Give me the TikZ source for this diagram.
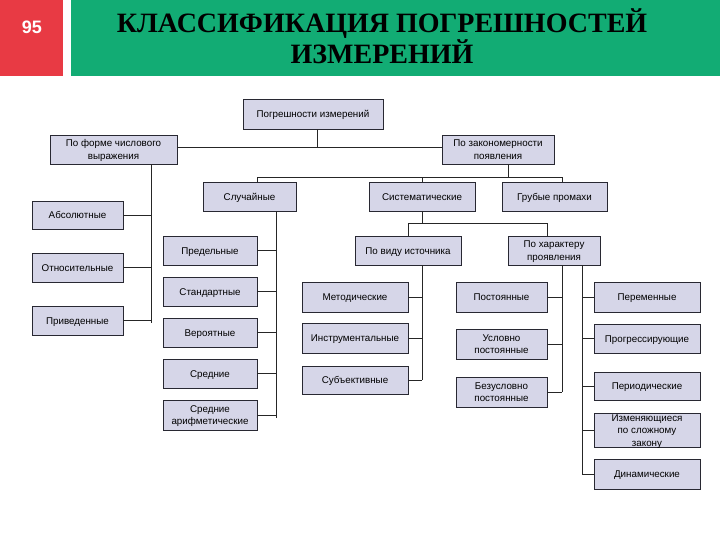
\documentclass[tikz,border=0pt]{standalone}
\usepackage{fontspec}
\setmainfont{Liberation Sans}
\newfontfamily\titlefont{Liberation Serif}
\usetikzlibrary{positioning, calc}
\definecolor{headred}{RGB}{232,58,68}
\definecolor{headgreen}{RGB}{18,172,116}
\definecolor{boxfill}{RGB}{214,214,232}
\definecolor{boxline}{RGB}{40,40,50}

\begin{document}
\begin{tikzpicture}[
    x=1pt, y=-1pt,
    classbox/.style={draw=boxline, fill=boxfill, line width=0.9pt, rectangle, inner sep=1pt,
      font=\fontsize{9.8}{12.5}\selectfont, align=center,
      execute at begin node={\rule{0pt}{11.5pt}}, execute at end node=\strut},
    tallbox/.style={execute at begin node={\rule{0pt}{#1}}},
    headbox/.style={rectangle, inner sep=0pt, anchor=north west, minimum height=76},
    tree_ln/.style={line width=0.9pt, black!85}
]
    \useasboundingbox[fill=white] (0,0) rectangle (720,540);

    \node[headbox, fill=headred, minimum width=63] (num_box) at (0,0) {};
    \node[headbox, fill=headgreen, minimum width=649] (title_box) at (71,0) {};
    \node[white, font=\bfseries\fontsize{18}{20}\selectfont] (num) at (32,27) {95};
    \node[font=\titlefont\bfseries\fontsize{28}{31}\selectfont, align=center] (title) at (382,36)
      {КЛАССИФИКАЦИЯ ПОГРЕШНОСТЕЙ\\ИЗМЕРЕНИЙ};

    \node[classbox, minimum width=140, minimum height=30] (root) at (313,114) {Погрешности измерений};
    \node[classbox, tallbox=23pt, minimum width=127, minimum height=29] (forma) at (113.5,149.5) {По форме числового\\выражения};
    \node[classbox, tallbox=23pt, minimum width=112, minimum height=29] (zakon) at (498,149.5) {По закономерности\\появления};

    \node[classbox, minimum width=91, minimum height=28] (abs) at (77.5,215) {Абсолютные};
    \node[classbox, minimum width=91, minimum height=29] (otn) at (77.5,267.5) {Относительные};
    \node[classbox, minimum width=91, minimum height=29] (priv) at (77.5,320.5) {Приведенные};

    \node[classbox, minimum width=93, minimum height=29] (sluch) at (249.5,196.5) {Случайные};
    \node[classbox, minimum width=106, minimum height=29] (sist) at (422,196.5) {Систематические};
    \node[classbox, minimum width=105, minimum height=29] (grub) at (554.5,196.5) {Грубые промахи};

    \node[classbox, minimum width=94, minimum height=29] (pred) at (210,250.5) {Предельные};
    \node[classbox, minimum width=94, minimum height=29] (stand) at (210,291.5) {Стандартные};
    \node[classbox, minimum width=94, minimum height=29] (ver) at (210,332.5) {Вероятные};
    \node[classbox, minimum width=94, minimum height=29] (sred) at (210,373.5) {Средние};
    \node[classbox, tallbox=23pt, minimum width=94, minimum height=30] (sarif) at (210,415) {Средние\\арифметические};

    \node[classbox, minimum width=106, minimum height=29] (vid) at (408,250.5) {По виду источника};
    \node[classbox, tallbox=23pt, minimum width=92, minimum height=29] (har) at (554,250.5) {По характеру\\проявления};

    \node[classbox, minimum width=106, minimum height=30] (met) at (355,297) {Методические};
    \node[classbox, minimum width=106, minimum height=30] (instr) at (355,338) {Инструментальные};
    \node[classbox, minimum width=106, minimum height=28] (subj) at (355,380) {Субъективные};

    \node[classbox, minimum width=91, minimum height=30] (post) at (501.5,297) {Постоянные};
    \node[classbox, tallbox=23pt, minimum width=91, minimum height=30] (usl) at (501.5,344) {Условно\\постоянные};
    \node[classbox, tallbox=23pt, minimum width=91, minimum height=30] (bezusl) at (501.5,392) {Безусловно\\постоянные};

    \node[classbox, minimum width=106, minimum height=30] (perem) at (647,297) {Переменные};
    \node[classbox, minimum width=106, minimum height=29] (progr) at (647,338.5) {Прогрессирующие};
    \node[classbox, minimum width=106, minimum height=28] (period) at (647,386) {Периодические};
    \node[classbox, minimum width=106, minimum height=34, inner sep=0pt, text height=33pt, text depth=1pt] (izm) at (647,430) {Изменяющиеся\\по сложному\\закону};
    \node[classbox, minimum width=106, minimum height=30] (dinam) at (647,474) {Динамические};

    \coordinate (root_j) at (317,147);
    \draw[tree_ln] (root.south -| root_j) -- (root_j);
    \draw[tree_ln] (forma.east |- root_j) -- (zakon.west |- root_j);

    \coordinate (forma_bus) at (151,323);
    \draw[tree_ln] (forma.south -| forma_bus) -- (forma_bus);
    \draw[tree_ln] (abs.east) -- (abs.east -| forma_bus);
    \draw[tree_ln] (otn.east) -- (otn.east -| forma_bus);
    \draw[tree_ln] (priv.east) -- (priv.east -| forma_bus);

    \coordinate (zakon_j) at (508,177);
    \coordinate (sluch_top) at (257,177);
    \coordinate (grub_top) at (562,177);
    \draw[tree_ln] (zakon.south -| zakon_j) -- (zakon_j);
    \draw[tree_ln] (sluch.north -| sluch_top) -- (sluch_top) -- (grub_top) -- (grub.north -| grub_top);
    \draw[tree_ln] (sist.north) -- (sist.north |- zakon_j);

    \coordinate (sluch_bus) at (276,418);
    \draw[tree_ln] (sluch.south -| sluch_bus) -- (sluch_bus);
    \draw[tree_ln] (pred.east) -- (pred.east -| sluch_bus);
    \draw[tree_ln] (stand.east) -- (stand.east -| sluch_bus);
    \draw[tree_ln] (ver.east) -- (ver.east -| sluch_bus);
    \draw[tree_ln] (sred.east) -- (sred.east -| sluch_bus);
    \draw[tree_ln] (sarif.east) -- (sarif.east -| sluch_bus);

    \coordinate (sist_j) at (422,223);
    \coordinate (vid_top) at (408,223);
    \coordinate (har_top) at (547,223);
    \draw[tree_ln] (sist.south) -- (sist_j);
    \draw[tree_ln] (vid.north -| vid_top) -- (vid_top) -- (har_top) -- (har.north -| har_top);

    \coordinate (vid_bus) at (422,380);
    \draw[tree_ln] (vid.south -| vid_bus) -- (vid_bus);
    \draw[tree_ln] (met.east) -- (met.east -| vid_bus);
    \draw[tree_ln] (instr.east) -- (instr.east -| vid_bus);
    \draw[tree_ln] (subj.east) -- (subj.east -| vid_bus);

    \coordinate (har_bus1) at (562,392);
    \coordinate (har_bus2) at (582,474);
    \draw[tree_ln] (har.south -| har_bus1) -- (har_bus1);
    \draw[tree_ln] (har.south -| har_bus2) -- (har_bus2);
    \draw[tree_ln] (post.east) -- (post.east -| har_bus1);
    \draw[tree_ln] (usl.east) -- (usl.east -| har_bus1);
    \draw[tree_ln] (bezusl.east) -- (bezusl.east -| har_bus1);
    \draw[tree_ln] (perem.west) -- (perem.west -| har_bus2);
    \draw[tree_ln] (progr.west) -- (progr.west -| har_bus2);
    \draw[tree_ln] (period.west) -- (period.west -| har_bus2);
    \draw[tree_ln] (izm.west) -- (izm.west -| har_bus2);
    \draw[tree_ln] (dinam.west) -- (dinam.west -| har_bus2);
\end{tikzpicture}
\end{document}
